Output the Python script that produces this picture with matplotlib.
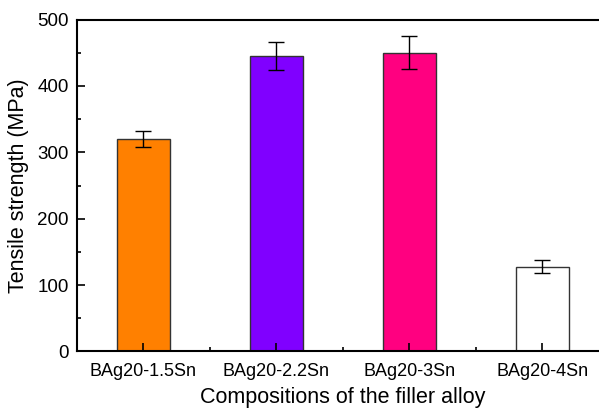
import matplotlib
matplotlib.use('Agg')
import matplotlib.pyplot as plt
from matplotlib.ticker import MultipleLocator

categories = ['BAg20-1.5Sn', 'BAg20-2.2Sn', 'BAg20-3Sn', 'BAg20-4Sn']
strength = [320, 445, 450, 128]
errors = [12, 21, 25, 10]
colors = ['#FF8000', '#8000FF', '#FF0080', '#FFFFFF']

plt.rcParams['font.family'] = ['Liberation Sans', 'DejaVu Sans']

fig = plt.figure(figsize=(5.99, 4.08), dpi=100)
ax = fig.add_axes([0.1285, 0.1385, 0.888, 0.8135])

x = list(range(1, len(categories) + 1))
ax.bar(x, strength, width=0.4, color=colors, edgecolor='#333333', linewidth=1.0,
       yerr=errors, capsize=5.5, error_kw=dict(ecolor='black', elinewidth=1.0, capthick=1.0))

ax.set_xlim(0.5, 4.5)
ax.set_ylim(0, 500)
ax.set_xticks(x)
ax.set_xticklabels(categories)
ax.xaxis.set_minor_locator(MultipleLocator(0.5))
ax.yaxis.set_major_locator(MultipleLocator(100))
ax.yaxis.set_minor_locator(MultipleLocator(50))
ax.tick_params(which='both', direction='in', labelsize=13, width=1.2)
ax.tick_params(which='major', length=6)
ax.tick_params(which='minor', length=3)
ax.tick_params(axis='x', which='major', pad=8)
ax.tick_params(axis='y', which='major', pad=6)
ax.tick_params(axis='y', labelsize=13.5)

for s in ax.spines.values():
    s.set_linewidth(1.5)

ax.set_xlabel('Compositions of the filler alloy', fontsize=15.5, labelpad=5)
ax.set_ylabel('Tensile strength (MPa)', fontsize=15.5, labelpad=6)

fig.savefig('out.png', dpi=100)
